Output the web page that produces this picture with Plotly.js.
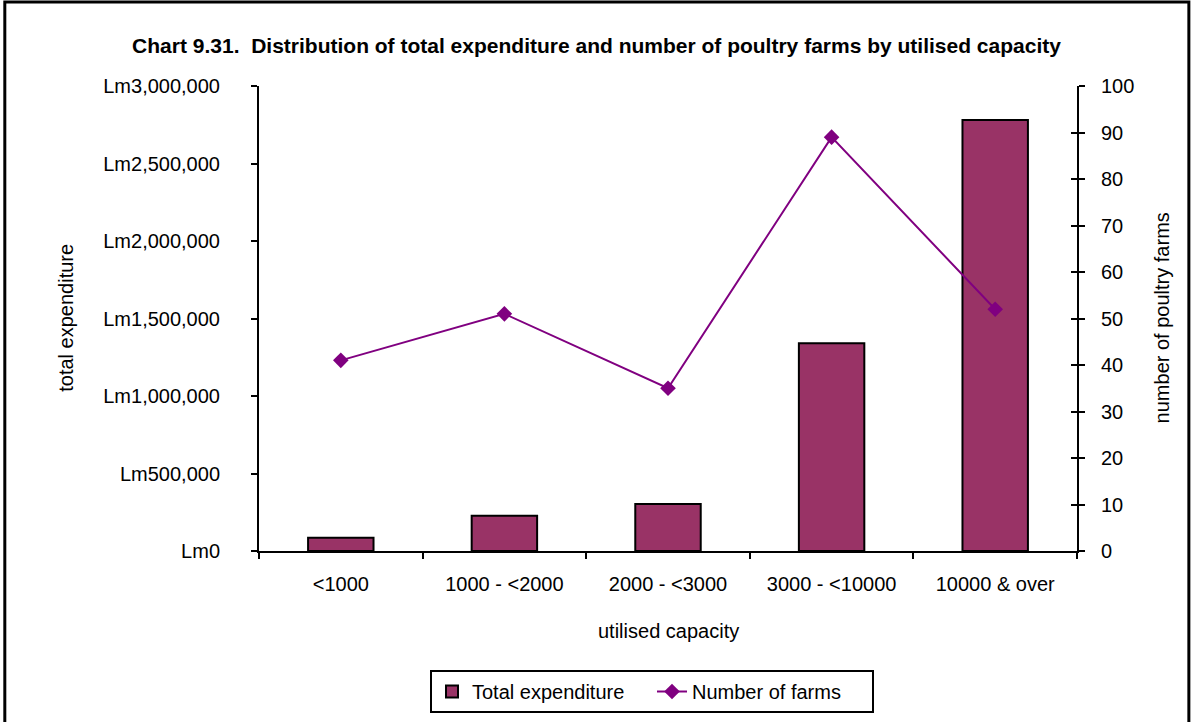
<!DOCTYPE html>
<html>
<head>
<meta charset="utf-8">
<script src="https://cdn.plot.ly/plotly-3.0.1.min.js"></script>
<style>
html,body{margin:0;padding:0;background:#fff;overflow:hidden;}
#chart{width:1193px;height:722px;}
</style>
</head>
<body>
<div id="chart"></div>
<script>
const categories = ["<1000", "1000 - <2000", "2000 - <3000", "3000 - <10000", "10000 & over"];
const totalExpenditure = [85000, 228000, 303000, 1340000, 2781000];
const numberOfFarms = [41, 51, 35, 89, 52];
const leftTicks = [0, 500000, 1000000, 1500000, 2000000, 2500000, 3000000];
const leftTickLabels = ["Lm0", "Lm500,000", "Lm1,000,000", "Lm1,500,000", "Lm2,000,000", "Lm2,500,000", "Lm3,000,000"];
const rightTicks = [0, 10, 20, 30, 40, 50, 60, 70, 80, 90, 100];

const W = 1193, H = 722;
const L = 258.5, R = W - 1077.5, T = 86, B = H - 551;
const pw = W - L - R, ph = H - T - B;
const px = v => (v - L) / pw;
const py = v => (H - B - v) / ph;

const FONT = "Liberation Sans, Arial, sans-serif";

const traces = [
  {
    type: "bar",
    name: "Total expenditure",
    x: categories,
    y: totalExpenditure,
    marker: {color: "#993366", line: {color: "#000000", width: 2}},
    yaxis: "y"
  },
  {
    type: "scatter",
    mode: "lines+markers",
    name: "Number of farms",
    x: categories,
    y: numberOfFarms,
    yaxis: "y2",
    line: {color: "#800080", width: 2},
    marker: {symbol: "diamond", size: 12, color: "#800080"}
  },
  {type: "scatter", x: [categories[0]], y: [null], yaxis: "y3", showlegend: false, hoverinfo: "skip"}
];

const layout = {
  width: W, height: H,
  margin: {l: L, r: R, t: T, b: B, pad: 0, autoexpand: false},
  paper_bgcolor: "#ffffff",
  plot_bgcolor: "#ffffff",
  font: {family: FONT, size: 20, color: "#000000"},
  showlegend: true,
  bargap: 0.6,
  title: {
    text: "<b>Chart 9.31.  Distribution of total expenditure and number of poultry farms by utilised capacity</b>",
    font: {family: FONT, size: 21, color: "#000"},
    x: 0.5, xref: "container", xanchor: "center",
    y: 1 - 46 / H, yref: "container", yanchor: "middle"
  },
  xaxis: {
    type: "category",
    tickson: "boundaries",
    ticks: "outside", ticklen: 6, tickwidth: 2, tickcolor: "#000",
    showline: true, linecolor: "#000", linewidth: 2,
    showgrid: false, zeroline: false,
    tickfont: {family: FONT, size: 20},
    ticklabelstandoff: 14,
    fixedrange: true
  },
  yaxis: {
    range: [0, 3000000],
    tickmode: "array",
    tickvals: leftTicks,
    ticktext: leftTickLabels,
    ticks: "outside", ticklen: 6, tickwidth: 2, tickcolor: "#000",
    showline: true, linecolor: "#000", linewidth: 2,
    showgrid: false, zeroline: false,
    tickfont: {family: FONT, size: 20},
    ticklabelstandoff: 27,
    fixedrange: true
  },
  yaxis2: {
    range: [0, 100],
    tickvals: rightTicks,
    overlaying: "y", side: "right",
    ticks: "outside", ticklen: 6, tickwidth: 2, tickcolor: "#000",
    showline: true, linecolor: "#000", linewidth: 2,
    showgrid: false, zeroline: false,
    tickfont: {family: FONT, size: 20},
    ticklabelstandoff: 12,
    fixedrange: true
  },
  yaxis3: {
    range: [0, 100],
    tickvals: rightTicks,
    overlaying: "y", side: "right",
    ticks: "inside", ticklen: 6, tickwidth: 2, tickcolor: "#000",
    showline: false, showticklabels: false,
    showgrid: false, zeroline: false,
    fixedrange: true
  },
  legend: {
    orientation: "h",
    xref: "container", yref: "container",
    x: 652 / W, xanchor: "center",
    y: 1 - 670 / H, yanchor: "top",
    bordercolor: "#000", borderwidth: 2,
    bgcolor: "#fff",
    font: {family: FONT, size: 20},
    entrywidth: 175,
    tracegroupgap: 0
  },
  annotations: [
    {text: "total expenditure", xref: "paper", yref: "paper", x: px(65), y: py(318),
     textangle: -90, showarrow: false, xanchor: "center", yanchor: "middle",
     font: {family: FONT, size: 20}},
    {text: "number of poultry farms", xref: "paper", yref: "paper", x: px(1163), y: py(318),
     textangle: -90, showarrow: false, xanchor: "center", yanchor: "middle",
     font: {family: FONT, size: 20}},
    {text: "utilised capacity", xref: "paper", yref: "paper", x: px(668), y: py(631),
     showarrow: false, xanchor: "center", yanchor: "middle",
     font: {family: FONT, size: 20}}
  ],
  shapes: [
    {type: "rect", xref: "paper", yref: "paper",
     x0: px(4), x1: px(1189.5), y0: py(730), y1: py(2),
     line: {color: "#000", width: 3}, fillcolor: "rgba(0,0,0,0)", layer: "below"}
  ]
};

Plotly.newPlot("chart", traces, layout, {displayModeBar: false, staticPlot: true});
</script>
</body>
</html>
